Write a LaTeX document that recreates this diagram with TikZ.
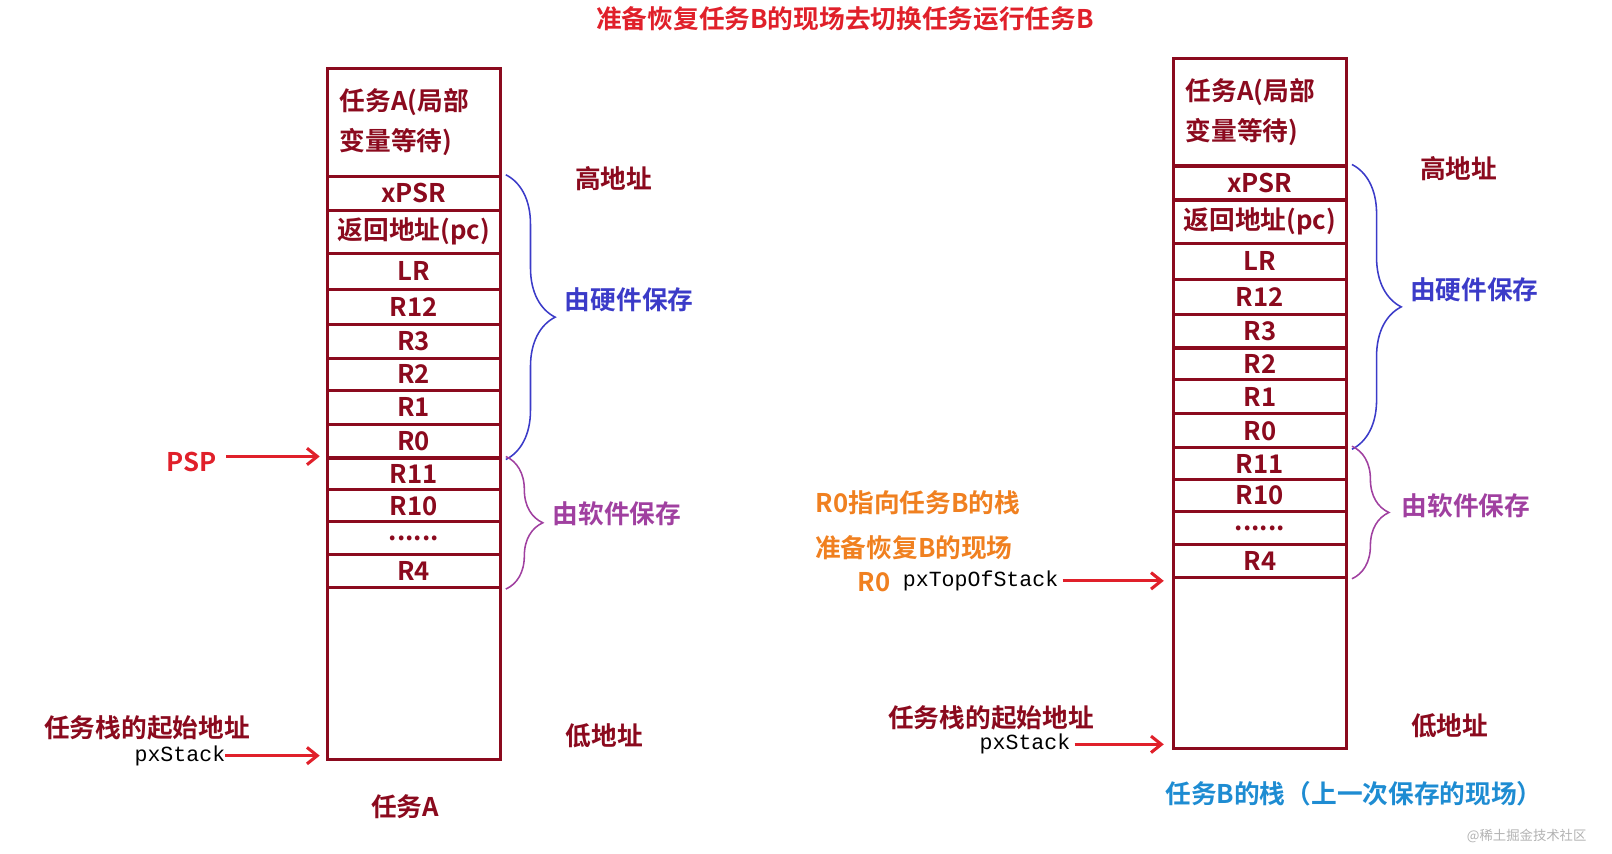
\documentclass[tikz,border=0pt]{standalone}
\usepackage{fontspec}
\setmainfont{Noto Sans CJK SC}
\newfontfamily\cjkb{Noto Sans CJK SC Bold}
\newfontfamily\monof{Liberation Mono}
\usetikzlibrary{decorations.pathreplacing,arrows.meta}
\definecolor{dred}{HTML}{8B0A1E}
\definecolor{hwblue}{HTML}{3B3BC8}
\definecolor{swpur}{HTML}{A040A0}
\definecolor{orng}{HTML}{F08020}
\definecolor{cyanb}{HTML}{1E8CD2}
\definecolor{rred}{HTML}{E0202A}
\newcommand\sixdots{......}
\tikzset{
 cell/.style={draw=dred,line width=3pt,anchor=north west,minimum width=168pt,inner sep=0pt,text=dred,font=\cjkb\fontsize{25}{27}\selectfont},
 lbl/.style={font=\cjkb\fontsize{25}{27}\selectfont},
 hbrace/.style={draw=hwblue,line width=1.5pt,decorate,decoration={brace,amplitude=48pt}},
 sbrace/.style={draw=swpur,line width=1.5pt,decorate,decoration={brace,amplitude=36pt}},
 arr/.style={draw=rred,line width=3pt,-{Straight Barb[length=10pt,width=16pt]}},
 mono/.style={font=\monof\fontsize{21}{22}\selectfont,text=black,inner sep=0pt}
}
\begin{document}
\begin{tikzpicture}[x=1pt,y=-1pt]
\useasboundingbox (0,0) rectangle (1568,830);
\node[text=rred,lbl] (title) at (822,18) {准备恢复任务B的现场去切换任务运行任务B};
\foreach \p/\x/\y in {L/317/65,R/1140/55}{
 \node[cell,minimum height=105pt,align=left,text width=144pt,inner xsep=12pt] (\p0) at (\x,\y) {任务A(局部\\[12pt]变量等待)};
 \foreach \n/\t/\a/\h in {1/xPSR/105/33,2/返回地址(pc)/138/42,3/LR/180/35,4/R12/215/34,5/R3/249/33,6/R2/282/31,7/R1/313/33,8/R0/346/33,9/R11/379/31,10/R10/410/31,11/\sixdots/441/32,12/R4/473/32,13/{}/505/167}{
  \node[cell,minimum height=\h pt] (\p\n) at (\x,\y+\a) {\t};
 }
}
% left annotations
\draw[hbrace] ([xshift=4pt]L1.north east) -- ([xshift=4pt]L8.south east);
\node[anchor=west,text=hwblue,lbl] (hwL) at (546,292) {由硬件保存};
\draw[sbrace] ([xshift=4pt]L9.north east) -- ([xshift=4pt]L12.south east);
\node[anchor=west,text=swpur,lbl] (swL) at (534,500) {由软件保存};
\node[lbl,text=dred] (hiL) at (597,174) {高地址};
\node[lbl,text=dred] (loL) at (588,716) {低地址};
\node[lbl,text=rred] (psp) at (186,449) {PSP};
\draw[arr] ([xshift=6pt]psp.east |- L9.north west) -- ([xshift=-6pt]L9.north west);
\node[lbl,text=dred] (stL) at (143,708) {任务栈的起始地址};
\node[mono] (pxL) at (175,735) {pxStack};
\draw[arr] (pxL.east) -- ([xshift=-6pt]pxL.east -| L13.south west);
\node[lbl,text=dred] (tA) at (394,785) {任务A};
% right annotations
\draw[hbrace] ([xshift=4pt]R1.north east) -- ([xshift=4pt]R8.south east);
\node[anchor=west,text=hwblue,lbl] (hwR) at (1368,282) {由硬件保存};
\draw[sbrace] ([xshift=4pt]R9.north east) -- ([xshift=4pt]R12.south east);
\node[anchor=west,text=swpur,lbl] (swR) at (1360,492) {由软件保存};
\node[lbl,text=dred] (hiR) at (1419,164) {高地址};
\node[lbl,text=dred] (loR) at (1410,706) {低地址};
\node[lbl,text=orng] (r0a) at (893,489) {R0指向任务B的栈};
\node[lbl,text=orng] (r0b) at (889,533) {准备恢复B的现场};
\node[lbl,text=orng] (r0c) at (850,566) {R0};
\node[mono,anchor=west] (topR) at (878,565) {pxTopOfStack};
\draw[arr] ([xshift=4pt]topR.east) -- ([xshift=-8pt]topR.east -| R12.south west);
\node[lbl,text=dred] (stR) at (964,698) {任务栈的起始地址};
\node[mono] (pxR) at (997,724) {pxStack};
\draw[arr] ([xshift=4pt]pxR.east) -- ([xshift=-8pt]pxR.east -| R13.south west);
\node[lbl,text=cyanb] (tB) at (1317,772) {任务B的栈（上一次保存的现场）};
\node[text=gray!60,font=\fontsize{13}{14}\selectfont] (wm) at (1485,813) {@稀土掘金技术社区};
\end{tikzpicture}
\end{document}
